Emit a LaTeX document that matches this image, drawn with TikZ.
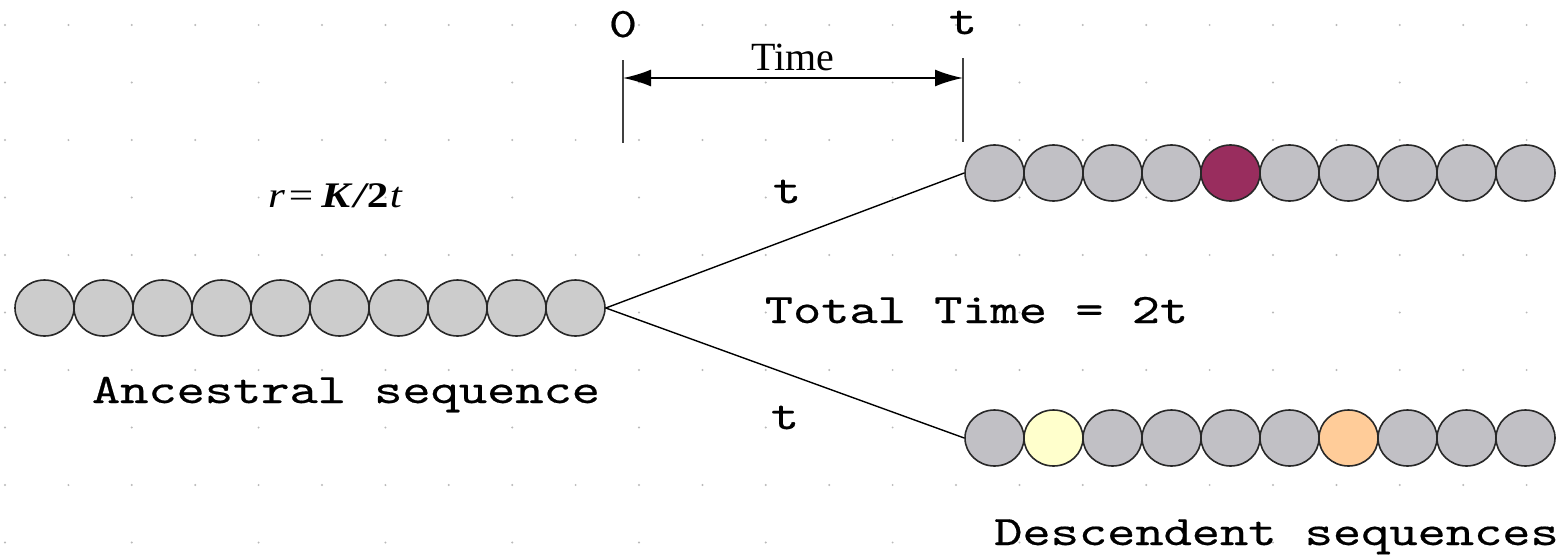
\documentclass[tikz,border=0pt]{standalone}
\usepackage{fontspec}
\usepackage{graphicx}
\usetikzlibrary{shapes.geometric,arrows.meta}
\newfontfamily\serifface{Liberation Serif}
\newfontfamily\monoface{lmmono10-regular.otf}[FakeBold=0.4]
\newcommand{\wide}[1]{\scalebox{1.28}[1]{#1}}
\definecolor{dotc}{RGB}{185,185,185}
\definecolor{ancgray}{RGB}{204,204,204}
\definecolor{desgray}{RGB}{193,192,197}
\definecolor{mutA}{RGB}{153,45,94}
\definecolor{mutB}{RGB}{255,255,204}
\definecolor{mutC}{RGB}{255,204,153}
\definecolor{rim}{RGB}{40,40,40}
\tikzset{
  base/.style={ellipse,draw=rim,line width=1.6,minimum width=59,minimum height=56,inner sep=0},
  anc/.style={base,fill=ancgray},
  des/.style={base,fill=desgray},
  monotext/.style={font={\monoface\fontsize{42}{44}\selectfont},inner sep=0,anchor=base},
  serifnode/.style={font={\serifface\fontsize{40}{42}\selectfont},inner sep=0,anchor=base},
  conn/.style={line width=1.4,black},
  tick/.style={line width=2,black!75},
  dimarrow/.style={line width=2,{Latex[length=28,width=17]}-{Latex[length=28,width=17]}}
}
\begin{document}
\begin{tikzpicture}[x=1pt,y=-1pt]
\useasboundingbox (0,0) rectangle (1560,554);
\fill[white] (0,0) rectangle (1560,554);
% dotted background grid
\foreach \k in {0,2,...,8}{
  \foreach \j in {0,...,24}{
    \fill[dotc] (5+63.4*\j,25+57.5*\k) circle (1.1);
  }
}
\foreach \k in {1,3,...,9}{
  \foreach \j in {0,2,...,24}{
    \fill[dotc] (5+63.4*\j,25+57.5*\k) circle (1.1);
  }
}
% time scale
\coordinate (s0top) at (623,60);
\coordinate (s0bot) at (623,143);
\coordinate (s1top) at (963,58);
\coordinate (s1bot) at (963,142);
\coordinate (s0mid) at (623,78);
\coordinate (s1mid) at (963,78);
\draw[tick] (s0top) -- (s0bot);
\draw[tick] (s1top) -- (s1bot);
\draw[dimarrow] (s0mid) -- (s1mid);
\node[monotext] (zero) at (623,37) {\wide{0}};
\node[monotext] (tend) at (963,34) {\wide{t}};
\node[serifnode] (time) at (793,70) {Time};
% formula
\node[font={\serifface\fontsize{36}{38}\selectfont},inner sep=0,anchor=base west] (rate) at (268,207)
  {\scalebox{1.2}[1]{\itshape r\kern1pt=\kern5pt{\bfseries K}\kern3pt{\bfseries /}\kern1pt{\upshape\bfseries 2}\kern1pt t}};
% ancestral sequence
\foreach \i in {0,...,9}{
  \node[anc] (a\i) at (44.5+59*\i,308) {};
}
% upper descendant
\foreach \i/\c in {0/desgray,1/desgray,2/desgray,3/desgray,4/mutA,5/desgray,6/desgray,7/desgray,8/desgray,9/desgray}{
  \node[des,fill=\c] (u\i) at (994.5+59*\i,173) {};
}
% lower descendant
\foreach \i/\c in {0/desgray,1/mutB,2/desgray,3/desgray,4/desgray,5/desgray,6/mutC,7/desgray,8/desgray,9/desgray}{
  \node[des,fill=\c] (d\i) at (994.5+59*\i,438) {};
}
\draw[conn] (a9.east) -- (u0.west);
\draw[conn] (a9.east) -- (d0.west);
% labels
\node[monotext] (tup) at (787,203) {\wide{t}};
\node[monotext] (tlow) at (785,429) {\wide{t}};
\node[monotext] (total) at (976.5,323) {\wide{Total Time = 2t}};
\node[monotext] (anclab) at (346,403) {\wide{Ancestral sequence}};
\node[monotext] (deslab) at (1276.5,545) {\wide{Descendent sequences}};
\end{tikzpicture}
\end{document}
